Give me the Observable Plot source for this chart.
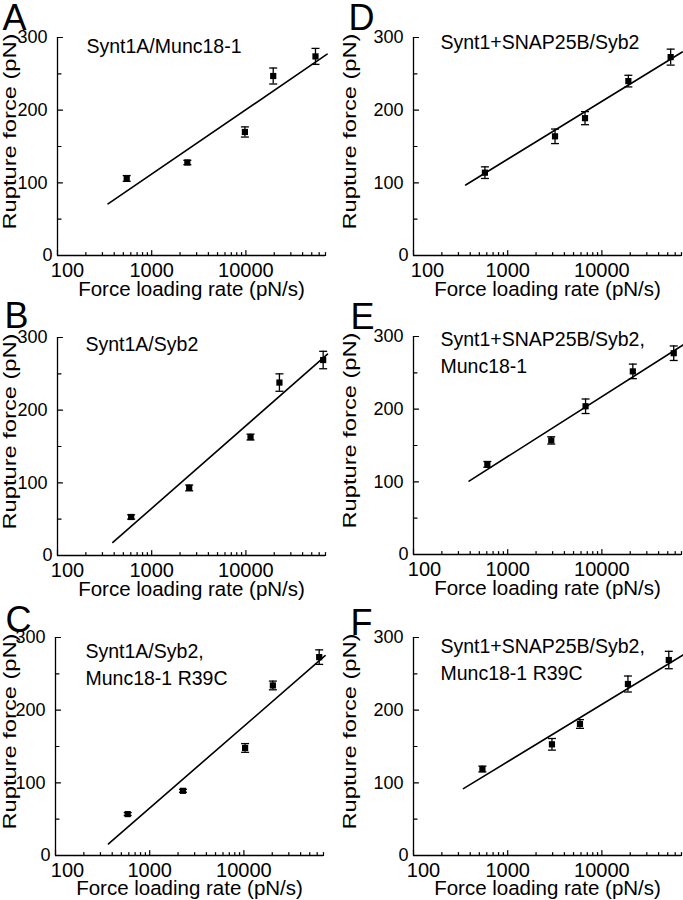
<!DOCTYPE html>
<html>
<head>
<meta charset="utf-8">
<script src="https://cdn.jsdelivr.net/npm/d3@7"></script>
<script src="https://cdn.jsdelivr.net/npm/@observablehq/plot@0.6"></script>
<style>
  html, body { margin: 0; padding: 0; background: #fff; }
  #fig { position: relative; width: 683px; height: 900px; background: #fff; overflow: hidden; }
  .panel { position: absolute; }
</style>
</head>
<body>
<div id="fig"></div>
<script>
// ---------- data ----------
const panelLetters = ["A", "B", "C", "D", "E", "F"];
const panelTitles = [
  "Synt1A/Munc18-1",
  "Synt1A/Syb2",
  "Synt1A/Syb2,\nMunc18-1 R39C",
  "Synt1+SNAP25B/Syb2",
  "Synt1+SNAP25B/Syb2,\nMunc18-1",
  "Synt1+SNAP25B/Syb2,\nMunc18-1 R39C"
];
const xLabel = "Force loading rate (pN/s)";
const yLabel = "Rupture force (pN)";

const xMajorTicks = [100, 1000, 10000];
const xMinorTicks = [200, 300, 400, 500, 600, 700, 800, 900,
  2000, 3000, 4000, 5000, 6000, 7000, 8000, 9000,
  20000, 30000, 40000, 50000, 60000, 70000];
const yMajorTicks = [0, 100, 200, 300];
const yMinorTicks = [50, 150, 250];

// loading rate (pN/s), rupture force (pN), error (pN), fitted line end points
const rateA = [543, 2390, 9760, 19500, 54800];
const forceA = [106, 128, 170, 247, 274];
const errA = [4, 3, 7, 11, 11];
const fitRateA = [344, 72800];
const fitForceA = [71, 277];

const rateB = [605, 2500, 11200, 22700, 66100];
const forceB = [53, 93, 163, 238, 269];
const errB = [3, 4, 4, 12, 12];
const fitRateB = [387, 73500];
const fitForceB = [18, 277];

const rateC = [584, 2255, 10300, 20300, 63000];
const forceC = [57, 89, 148, 234, 273];
const errC = [2, 2, 6, 6, 10];
const fitRateC = [365, 72800];
const fitForceC = [16, 275];

const rateD = [573, 3180, 6620, 19100, 53700];
const forceD = [114, 164, 189, 240, 273];
const errD = [8, 10, 9, 8, 11];
const fitRateD = [358, 71300];
const fitForceD = [97, 280];

const rateE = [608, 2900, 6710, 21300, 57900];
const forceE = [124, 157, 204, 252, 277];
const errE = [4, 5, 10, 10, 10];
const fitRateE = [389, 74000];
const fitForceE = [101, 289];

const rateF = [539, 2950, 5850, 18900, 51300];
const forceF = [119, 153, 181, 236, 269];
const errF = [4, 8, 6, 11, 12];
const fitRateF = [339, 72800];
const fitForceF = [92, 276];

// ---------- layout (positions only) ----------
const layout = [
  {left: 0,   top: 0,   width: 340, ml: 57, letterDx: -55, letterDy: -33, titleDx: 29, titleDy: -3, firstDx: 10, xlabDy: 40},
  {left: 0,   top: 300, width: 340, ml: 57, letterDx: -53, letterDy: -35, titleDx: 28, titleDy: -5, firstDx: 10, xlabDy: 40},
  {left: 0,   top: 600, width: 340, ml: 55, letterDx: -50, letterDy: -31, titleDx: 30, titleDy: 2,  firstDx: 12, xlabDy: 39},
  {left: 340, top: 0,   width: 343, ml: 73, letterDx: -65, letterDy: -33, titleDx: 27, titleDy: -7, firstDx: 14, xlabDy: 40},
  {left: 340, top: 299, width: 343, ml: 73, letterDx: -63, letterDy: -33, titleDx: 27, titleDy: -9, firstDx: 11, xlabDy: 40},
  {left: 340, top: 600, width: 343, ml: 73, letterDx: -63, letterDy: -28, titleDx: 27, titleDy: -3, firstDx: 10, xlabDy: 39}
];

const series = [
  [rateA, forceA, errA, fitRateA, fitForceA],
  [rateB, forceB, errB, fitRateB, fitForceB],
  [rateC, forceC, errC, fitRateC, fitForceC],
  [rateD, forceD, errD, fitRateD, fitForceD],
  [rateE, forceE, errE, fitRateE, fitForceE],
  [rateF, forceF, errF, fitRateF, fitForceF]
];

const font = "'Liberation Sans', Arial, Helvetica, sans-serif";
const tickShape = {draw(context, length) { context.moveTo(0, 0); context.lineTo(0, -length); }};
const capSymbol = {draw(context) { context.moveTo(-4, 0); context.lineTo(4, 0); }};

const fig = document.getElementById("fig");

series.forEach(([rate, force, err, fitRate, fitForce], i) => {
  const L = layout[i];
  const pts = rate.map((r, j) => ({rate: r, force: force[j], lo: force[j] - err[j], hi: force[j] + err[j]}));
  const fit = fitRate.map((r, j) => ({rate: r, force: fitForce[j]}));
  const marginRight = L.width - L.ml - 268;

  const svg = Plot.plot({
    width: L.width,
    height: 300,
    marginLeft: L.ml,
    marginRight: marginRight,
    marginTop: 37,
    marginBottom: 45,
    x: {type: "log", domain: [100, 70000]},
    y: {domain: [0, 300]},
    style: {fontFamily: font, fontSize: "20px", color: "black", background: "transparent", overflow: "visible"},
    marks: [
      // axis lines
      Plot.ruleX([100], {stroke: "black", strokeWidth: 1.3}),
      Plot.ruleY([0], {stroke: "black", strokeWidth: 1.3}),
      // inward ticks
      Plot.vector(yMajorTicks, {x: 100, y: d => d, rotate: 90, length: 5, anchor: "start", shape: tickShape, stroke: "black", strokeWidth: 1.2}),
      Plot.vector(yMinorTicks, {x: 100, y: d => d, rotate: 90, length: 3.5, anchor: "start", shape: tickShape, stroke: "black", strokeWidth: 1.2}),
      Plot.vector(xMajorTicks, {x: d => d, y: 0, rotate: 0, length: 5, anchor: "start", shape: tickShape, stroke: "black", strokeWidth: 1.2}),
      Plot.vector(xMinorTicks, {x: d => d, y: 0, rotate: 0, length: 3, anchor: "start", shape: tickShape, stroke: "black", strokeWidth: 1.2}),
      // tick labels
      Plot.axisX({ticks: xMajorTicks.slice(1), tickSize: 0, tickPadding: 7, tickFormat: d => String(d), label: null, fontSize: 20}),
      Plot.axisX({ticks: xMajorTicks.slice(0, 1), tickSize: 0, tickPadding: 7, dx: L.firstDx, tickFormat: d => String(d), label: null, fontSize: 20}),
      Plot.axisY({ticks: yMajorTicks.slice(1), tickSize: 0, tickPadding: 10, tickFormat: d => String(d), label: null, fontSize: 18}),
      Plot.axisY({ticks: yMajorTicks.slice(0, 1), tickSize: 0, tickPadding: 5, tickFormat: d => String(d), label: null, fontSize: 18}),
      // axis labels
      Plot.text([xLabel], {frameAnchor: "bottom", dy: L.xlabDy, lineAnchor: "bottom", textAnchor: "middle", fontSize: 20.5, fill: "black"}),
      Plot.text([yLabel], {frameAnchor: "left", dx: -(L.ml - 3), dy: -15, rotate: -90, lineAnchor: "top", textAnchor: "middle", fontSize: 18, fill: "black"}),
      // panel letter
      Plot.text([panelLetters[i]], {frameAnchor: "top-left", dx: L.letterDx, dy: L.letterDy, lineAnchor: "top", textAnchor: "start", fontSize: 36, fill: "black"}),
      // title
      Plot.text([panelTitles[i]], {frameAnchor: "top-left", dx: L.titleDx, dy: L.titleDy, lineAnchor: "top", textAnchor: "start", lineHeight: 1.35, fontSize: 19.5, fill: "black"}),
      // fit line
      Plot.line(fit, {x: "rate", y: "force", stroke: "black", strokeWidth: 1.6}),
      // error bars
      Plot.ruleX(pts, {x: "rate", y1: "lo", y2: "hi", stroke: "black", strokeWidth: 1.3}),
      Plot.dot(pts, {x: "rate", y: "hi", symbol: capSymbol, fill: "none", stroke: "black", strokeWidth: 1.3}),
      Plot.dot(pts, {x: "rate", y: "lo", symbol: capSymbol, fill: "none", stroke: "black", strokeWidth: 1.3}),
      // data points
      Plot.dot(pts, {x: "rate", y: "force", symbol: "square", r: 3.5, fill: "black", stroke: "none"})
    ]
  });

  // the reference's y label is stretched along its length
  svg.querySelectorAll("text").forEach(t => {
    if (t.textContent === yLabel) {
      t.setAttribute("textLength", "196");
      t.setAttribute("lengthAdjust", "spacingAndGlyphs");
    }
  });

  const div = document.createElement("div");
  div.className = "panel";
  div.style.left = L.left + "px";
  div.style.top = L.top + "px";
  div.appendChild(svg);
  fig.appendChild(div);
});
</script>
</body>
</html>
